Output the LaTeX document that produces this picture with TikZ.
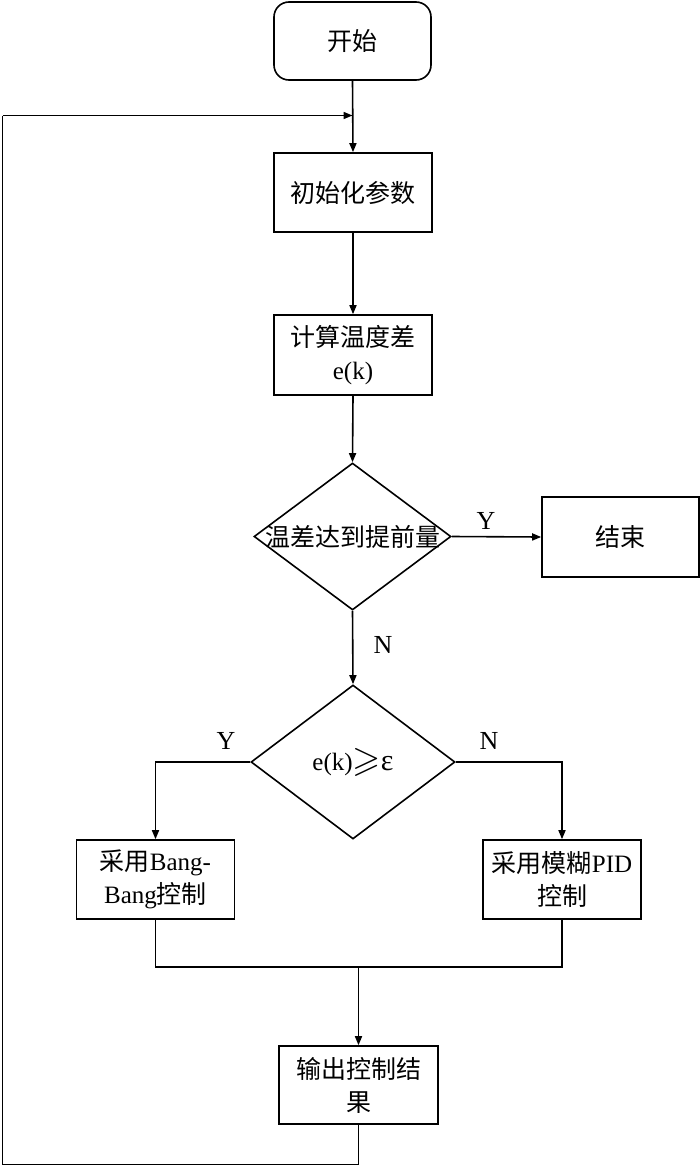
\documentclass[tikz,border=0pt]{standalone}
\usepackage{fontspec}
\usepackage{amssymb}
\usepackage{graphicx}
\setmainfont{Liberation Serif}
\newfontfamily\cjk{Noto Sans CJK SC}
\usetikzlibrary{shapes.geometric,arrows.meta}
\begin{document}
\begin{tikzpicture}[x=1pt,y=-1pt,
  every node/.style={font=\fontsize{25}{33}\selectfont},
  line/.style={line width=1.6pt,draw=black},
  arr/.style={line, -{Triangle[length=9pt,width=7pt]}},
  box/.style={line, rectangle, minimum width=158pt, minimum height=79pt, inner sep=0pt, align=center},
  rbox/.style={box, rounded corners=15pt},
  dia/.style={line, diamond, inner sep=0pt},
  lab/.style={inner sep=0pt, font=\fontsize{26}{28}\selectfont}
]
\useasboundingbox (0,0) rectangle (700,1167);
\node[rbox, minimum width=157pt, minimum height=78pt] (start) at (352.5,41) {\cjk 开始};
\node[box] (init) at (353,192.5) {\cjk 初始化参数};
\node[box, minimum height=80pt] (calc) at (353,355) {{\cjk 计算温度差}\\e(k)};
\node[dia, minimum width=197pt, minimum height=147pt] (d1) at (352.5,536.5) {};
\node[inner sep=0pt] (d1t) at (d1.center) {\cjk 温差达到提前量};
\node[box, minimum width=157pt, minimum height=80pt] (end) at (620.5,537) {\cjk 结束};
\node[dia, minimum width=204pt, minimum height=154pt] (d2) at (353,762) {};
\node[inner sep=0pt] (d2t) at (d2.center) {e(k)\raisebox{-1pt}{\scalebox{1.45}{$\geqslant$}}\scalebox{1.2}{ε}};
\node[box] (bang) at (155.5,879.5) {{\cjk 采用}Bang-\\Bang{\cjk 控制}};
\node[box] (pid) at (562,879.5) {{\cjk 采用模糊}PID\\{\cjk 控制}};
\node[box, minimum width=159pt, minimum height=78pt] (out) at (358.5,1085) {{\cjk 输出控制结}\\{\cjk 果}};

\coordinate (loopin) at (352.5,115.5);
\coordinate (m) at (358.5,967);
\coordinate (bl) at (bang.south |- m);
\coordinate (pr) at (pid.south |- m);
\coordinate (lb) at (358.5,1164.5);
\coordinate (ll) at (2.5,1164.5);
\coordinate (lt) at (2.5,115.5);

\draw[arr] (start.south) -- (init.north);
\draw[arr] (init.south) -- (calc.north);
\draw[arr] (calc.south) -- (d1.north);
\draw[arr] (d1.east) -- (end.west);
\draw[arr] (d1.south) -- (d2.north);
\draw[arr] (d2.west) -| (bang.north);
\draw[arr] (d2.east) -| (pid.north);
\node[lab] (ly1) at (486,521) {Y};
\node[lab] (ln1) at (383,645) {N};
\node[lab] (ly2) at (226,741) {Y};
\node[lab] (ln2) at (489,741) {N};
\draw[line] (bang.south) -- (bl) -- (pr) -- (pid.south);
\draw[arr] (m) -- (out.north);
\draw[line] (out.south) -- (lb) -- (ll) -- (lt);
\draw[arr] (lt) -- (loopin);
\end{tikzpicture}
\end{document}
